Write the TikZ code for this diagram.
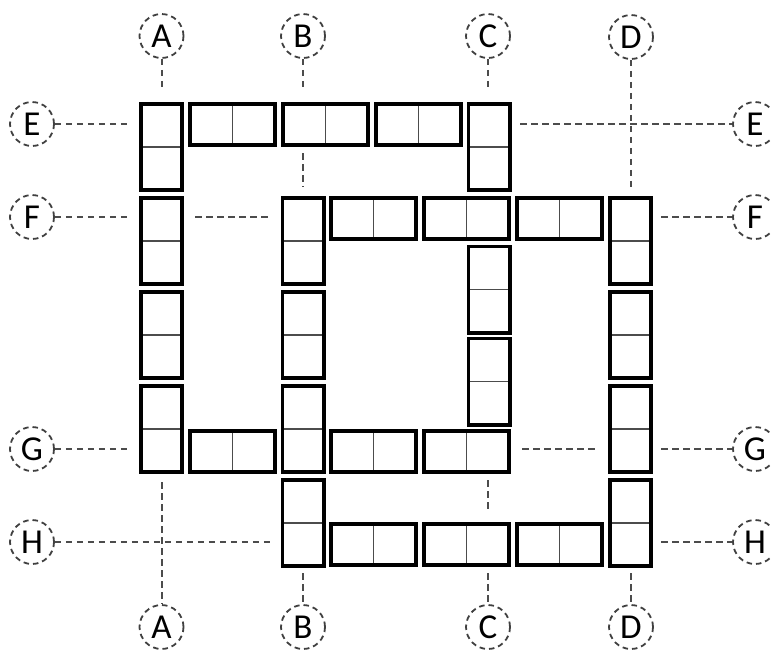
\documentclass[tikz,border=0pt]{standalone}
\usepackage{fontspec}
\setmainfont{Carlito}
\begin{document}
\begin{tikzpicture}[x=1pt,y=-1pt,
  blk/.style={draw=black, line width=3.6pt, fill=white, inner sep=0pt, outer sep=0pt},
  vblk/.style={blk, minimum width=41.4pt, minimum height=86.4pt,
    path picture={\draw[line width=1.6pt, black!70] (path picture bounding box.west) -- (path picture bounding box.east);}},
  hblk/.style={blk, minimum width=85.4pt, minimum height=41.4pt,
    path picture={\draw[line width=1.6pt, black!70] (path picture bounding box.north) -- (path picture bounding box.south);}},
  lbl/.style={circle, draw=black!75, line width=1.8pt, dash pattern=on 5.5pt off 4pt,
    minimum size=44pt, inner sep=0pt, font=\fontsize{35}{40}\selectfont, text=black},
  gl/.style={draw=black!70, line width=2pt, dash pattern=on 6.5pt off 4.5pt}
]
\useasboundingbox (0,0) rectangle (771,649);

% ring 1: left column A
\node[vblk] (a1) at (161.5,147) {};
\node[vblk] (a2) at (161.5,241) {};
\node[vblk] (a3) at (161.5,335) {};
\node[vblk] (a4) at (161.5,429) {};
% ring 1: top row E
\node[hblk] (e1) at (232.5,124.5) {};
\node[hblk] (e2) at (325.5,124.5) {};
\node[hblk] (e3) at (418.5,124.5) {};
\node[vblk] (c0) at (489,147) {};
% ring 1: inner right column C
\node[vblk] (c1) at (489,289.5) {};
\node[vblk] (c2) at (489,381.5) {};
% ring 1: bottom row G
\node[hblk] (g1) at (232.5,451.5) {};
\node[hblk] (g2) at (373.5,451.5) {};
\node[hblk] (g3) at (466.5,451.5) {};
% ring 2: column B
\node[vblk] (b1) at (303,241) {};
\node[vblk] (b2) at (303,335) {};
\node[vblk] (b3) at (303,429) {};
\node[vblk] (b4) at (303,523) {};
% ring 2: top row F
\node[hblk] (f1) at (373.5,218.5) {};
\node[hblk] (f2) at (466.5,218.5) {};
\node[hblk] (f3) at (559.5,218.5) {};
% ring 2: column D
\node[vblk] (d1) at (630.5,241) {};
\node[vblk] (d2) at (630.5,335) {};
\node[vblk] (d3) at (630.5,429) {};
\node[vblk] (d4) at (630.5,523) {};
% ring 2: bottom row H
\node[hblk] (h1) at (373.5,544.5) {};
\node[hblk] (h2) at (466.5,544.5) {};
\node[hblk] (h3) at (559.5,544.5) {};

% axis labels
\node[lbl] (At) at (161.5,36) {A};
\node[lbl] (Bt) at (303,36) {B};
\node[lbl] (Ct) at (488,36) {C};
\node[lbl] (Dt) at (631,37) {D};
\node[lbl] (Ab) at (161.5,627) {A};
\node[lbl] (Bb) at (303,627) {B};
\node[lbl] (Cb) at (488,627) {C};
\node[lbl] (Db) at (631,627) {D};
\node[lbl] (El) at (32,124) {E};
\node[lbl] (Fl) at (32,217) {F};
\node[lbl] (Gl) at (32,449) {G};
\node[lbl] (Hl) at (32,542) {H};
\node[lbl] (Er) at (755,124) {E};
\node[lbl] (Fr) at (755,217) {F};
\node[lbl] (Gr) at (755,449) {G};
\node[lbl] (Hr) at (755,542) {H};

% free ends of the grid lines
\coordinate (pAt) at (161.5,91);
\coordinate (pBt) at (303,91);
\coordinate (pCt) at (488,91);
\coordinate (pDt) at (631,190);
\coordinate (pB1) at (303,153);
\coordinate (pB2) at (303,187);
\coordinate (pEl) at (131,124);
\coordinate (pEr) at (520,124);
\coordinate (pFl) at (131,217);
\coordinate (pF1) at (195,217);
\coordinate (pF2) at (272,217);
\coordinate (pFr) at (661,217);
\coordinate (pGl) at (131,449);
\coordinate (pG1) at (522,449);
\coordinate (pG2) at (599,449);
\coordinate (pGr) at (661,449);
\coordinate (pHl) at (274,542);
\coordinate (pHr) at (661,542);
\coordinate (pAb) at (161.5,482);
\coordinate (pBb) at (303,573);
\coordinate (pCb) at (488,573);
\coordinate (pC1) at (488,480);
\coordinate (pC2) at (488,513);
\coordinate (pDb) at (631,573);

\draw[gl] (At) -- (pAt);
\draw[gl] (Bt) -- (pBt);
\draw[gl] (Ct) -- (pCt);
\draw[gl] (Dt) -- (pDt);
\draw[gl] (pB1) -- (pB2);
\draw[gl] (El) -- (pEl);
\draw[gl] (pEr) -- (Er);
\draw[gl] (Fl) -- (pFl);
\draw[gl] (pF1) -- (pF2);
\draw[gl] (pFr) -- (Fr);
\draw[gl] (Gl) -- (pGl);
\draw[gl] (pG1) -- (pG2);
\draw[gl] (pGr) -- (Gr);
\draw[gl] (Hl) -- (pHl);
\draw[gl] (pHr) -- (Hr);
\draw[gl] (pAb) -- (Ab);
\draw[gl] (pBb) -- (Bb);
\draw[gl] (pCb) -- (Cb);
\draw[gl] (pC1) -- (pC2);
\draw[gl] (pDb) -- (Db);
\end{tikzpicture}
\end{document}
